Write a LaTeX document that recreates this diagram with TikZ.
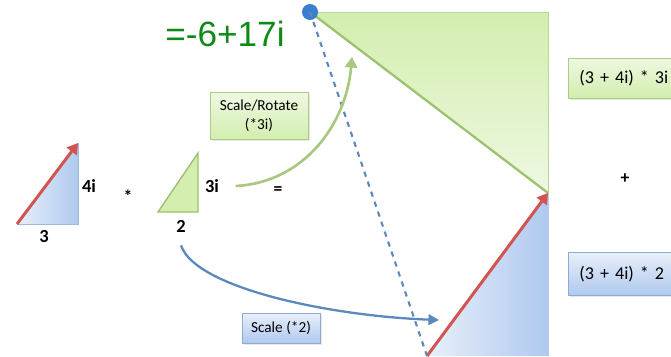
\documentclass[tikz,border=0pt]{standalone}
\usepackage{fontspec}
\setmainfont{Carlito}
\newfontfamily\resultfont{Liberation Sans}
\usetikzlibrary{arrows.meta,positioning,shadows}
\definecolor{CMGreen}{HTML}{9DC26F}
\definecolor{CMGreenFill}{HTML}{D3EEAE}
\definecolor{CMGreenPale}{HTML}{EEF8E2}
\definecolor{CMBlue}{HTML}{5B89BE}
\definecolor{CMBlueFill}{HTML}{AFC9EF}
\definecolor{CMBluePale}{HTML}{E8EFFA}
\definecolor{CMRed}{HTML}{D25450}
\definecolor{CMDot}{HTML}{3B7DD0}
\definecolor{CMText}{HTML}{0E8A16}
\newcommand\prodfont{\fontsize{10.3}{13}\selectfont\spaceskip=0.2em plus 0.02em\relax}

\begin{document}
\begin{tikzpicture}[x=0.02cm,y=0.02cm,
    greenbox/.style={draw=CMGreen!85,top color=CMGreenPale,bottom color=CMGreenFill,
      drop shadow={opacity=0.2,shadow xshift=1pt,shadow yshift=-1pt},
      align=center,inner sep=2pt},
    bluebox/.style={draw=CMBlue!70,top color=CMBluePale,bottom color=CMBlueFill,
      drop shadow={opacity=0.2,shadow xshift=1pt,shadow yshift=-1pt},
      align=center,inner sep=2pt},
    prodtext/.style={anchor=west,minimum width=2.5cm,inner xsep=0.22cm,
      text width=2.1cm,align=left,font=\prodfont},
    sidelbl/.style={font=\fontsize{10.5}{12}\selectfont\bfseries},
    oplbl/.style={font=\fontsize{10}{12}\selectfont\bfseries},
    vec/.style={draw=CMRed,line width=1.7pt,-{Triangle[length=6pt,width=7pt]}}
  ]
  \useasboundingbox (0,0) rectangle (671,-356);
  \clip (0,0) rectangle (671,-356);
  % big triangles
  \shade[top color=CMGreenFill,bottom color=CMGreenPale]
    (310,-12) -- (548,-12) -- (548,-193) -- cycle;
  \draw[CMGreen!70] (310,-12) -- (548,-12) -- (548,-193);
  \draw[CMGreen,line width=1.3pt] (548,-193) -- (310,-12);
  \shade[left color=CMBluePale,right color=CMBlueFill]
    (427,-356) -- (548,-193) -- (548,-356) -- cycle;
  \draw[CMBlue!45] (548,-193) -- (548,-356);
  \draw[vec] (427,-356) -- (548,-193);
  % small triangles
  \shade[left color=CMBluePale,right color=CMBlueFill]
    (17,-224) -- (78,-143) -- (78,-224) -- cycle;
  \draw[CMBlue!60] (78,-143) -- (78,-224) -- (17,-224);
  \draw[vec] (17,-224) -- (78,-143);
  \filldraw[fill=CMGreenFill,draw=CMGreen,line width=0.8pt]
    (158,-212) -- (198,-153) -- (198,-212) -- cycle;
  % labels
  \node[sidelbl] (lbl4i) at (89,-186) {4i};
  \node[sidelbl] (lbl3) at (44,-237) {3};
  \node[oplbl] (times) at (128,-196) {*};
  \node[sidelbl] (lbl3i) at (212,-186) {3i};
  \node[sidelbl] (lbl2) at (181,-226) {2};
  \node[oplbl] (equals) at (278,-191) {=};
  \node[oplbl] (plus) at (625,-179) {+};
  \node[text=CMText,font=\resultfont\fontsize{20}{22}\selectfont]
    (result) at (225,-34) {=-6+17i};
  % boxes
  \node[greenbox,minimum width=1.96cm,minimum height=0.94cm,
    font=\fontsize{8.7}{11}\selectfont] (rotbox) at (259,-116)
    {Scale/Rotate\\(*3i)};
  \node[bluebox,minimum width=1.56cm,minimum height=0.6cm,
    font=\fontsize{8.7}{10}\selectfont] (scalebox) at (281,-328)
    {Scale (*2)};
  \node[greenbox,prodtext,minimum height=0.8cm] (prodi) at (568,-78)
    {(3 + 4i) * 3i};
  \node[bluebox,prodtext,minimum height=0.86cm] (prodtwo) at (568,-274)
    {(3 + 4i) * 2};
  % connectors
  \node[circle,fill=CMDot,minimum size=0.32cm,inner sep=0pt] (dot) at (310,-12) {};
  \coordinate (base) at (427,-356);
  \coordinate (rottip) at (352,-57);
  \coordinate (scaletip) at (439,-320);
  \draw[CMBlue,dashed,line width=1.2pt] (dot.center) -- (base);
  \draw[CMGreen!90,line width=1.5pt,-{Triangle[length=6pt,width=7pt]}]
    ([xshift=6pt]lbl3i.east) to[out=3,in=-95] (rottip);
  \draw[CMBlue,line width=1.3pt,-{Triangle[length=6pt,width=6pt]}]
    ([yshift=-4pt]lbl2.south) .. controls (195,-288) and (330,-316) .. (scaletip);
\end{tikzpicture}
\end{document}
